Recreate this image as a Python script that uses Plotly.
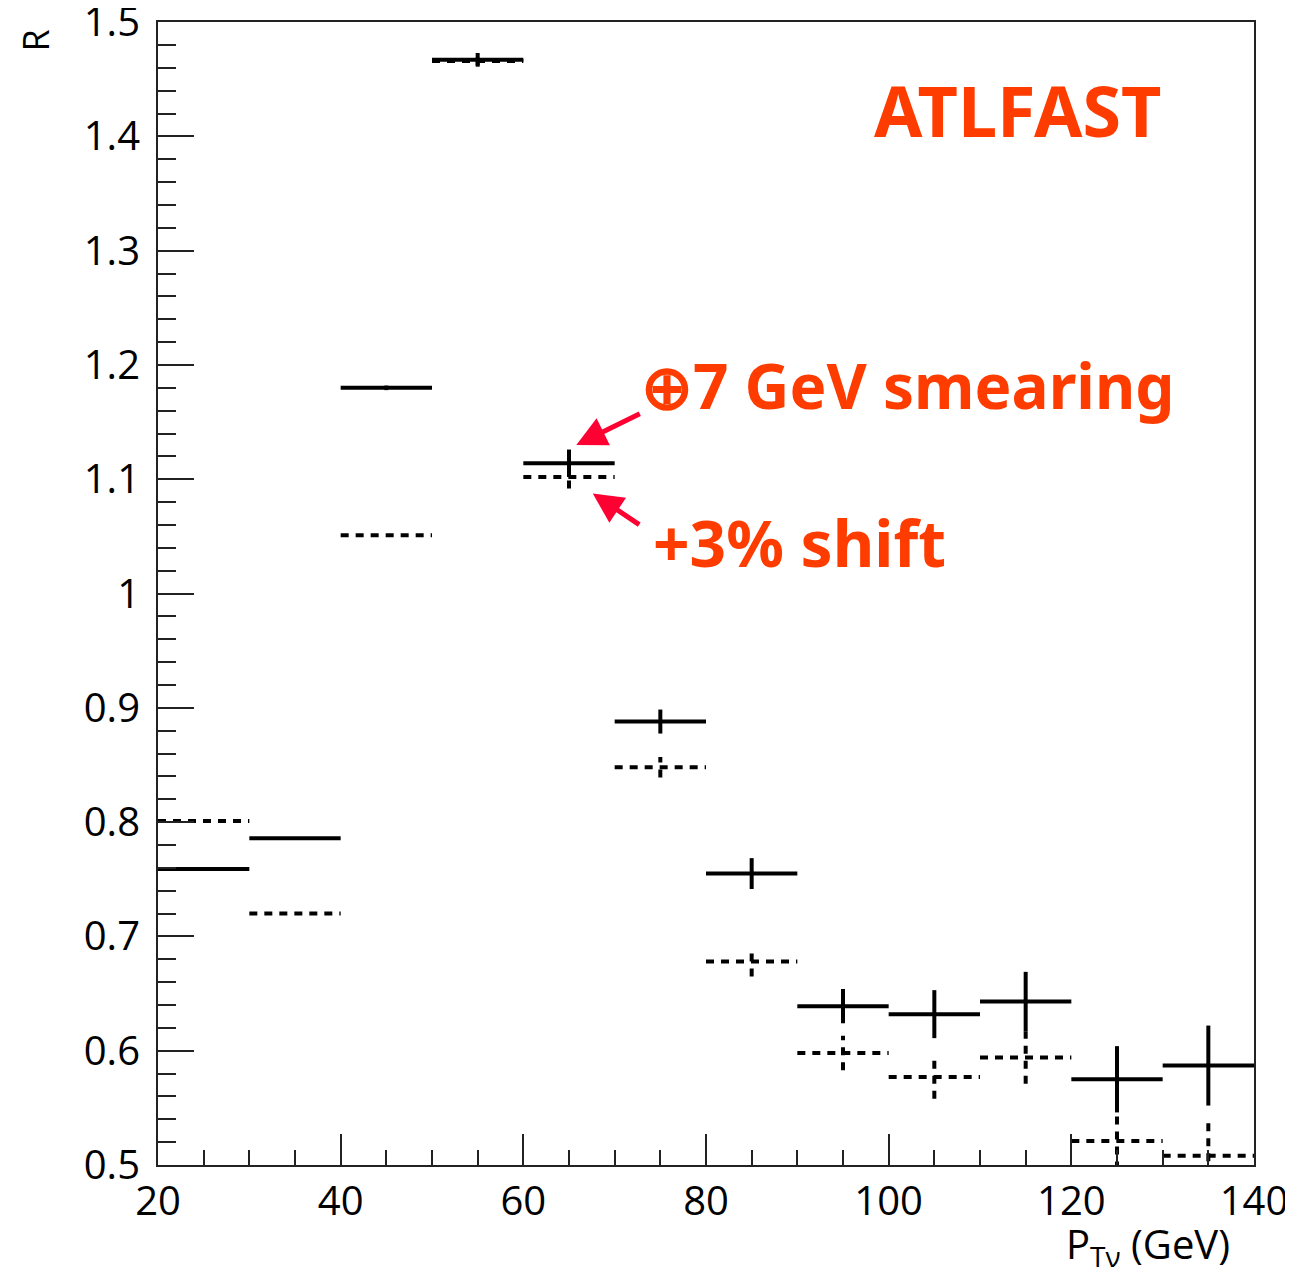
import plotly.graph_objects as go

# Bin edges (GeV)
bin_lo = [20, 30, 40, 50, 60, 70, 80, 90, 100, 110, 120, 130]
bin_hi = [30, 40, 50, 60, 70, 80, 90, 100, 110, 120, 130, 140]

# Solid series: +7 GeV smearing
smear_val = [0.759, 0.786, 1.180, 1.467, 1.114, 0.888, 0.755, 0.639, 0.632, 0.643, 0.575, 0.587]
smear_err = [0.0, 0.0, 0.002, 0.006, 0.012, 0.0105, 0.0135, 0.015, 0.021, 0.026, 0.029, 0.035]

# Dashed series: +3% shift
shift_val = [0.801, 0.720, 1.051, 1.466, 1.102, 0.848, 0.678, 0.598, 0.577, 0.594, 0.521, 0.508]
shift_err = [0.0, 0.0, 0.0, 0.004, 0.010, 0.009, 0.013, 0.015, 0.019, 0.023, 0.025, 0.031]

y_tickvals = [0.5, 0.6, 0.7, 0.8, 0.9, 1.0, 1.1, 1.2, 1.3, 1.4, 1.5]
y_ticktext = ["0.5", "0.6", "0.7", "0.8", "0.9", "1", "1.1", "1.2", "1.3", "1.4", "1.5"]
x_tickvals = [20, 40, 60, 80, 100, 120, 140]
x_ticktext = ["20", "40", "60", "80", "100", "120", "140"]


def hsegs(lo, hi, vals):
    xs, ys = [], []
    for a, b, v in zip(lo, hi, vals):
        xs += [a, b, None]
        ys += [v, v, None]
    return xs, ys


def vsegs(lo, hi, vals, errs):
    xs, ys = [], []
    for a, b, v, e in zip(lo, hi, vals, errs):
        if e <= 0:
            continue
        c = (a + b) / 2
        xs += [c, c, None]
        ys += [v - e, v + e, None]
    return xs, ys


fig = go.Figure()

dash_style = "8px,7px"

hx, hy = hsegs(bin_lo, bin_hi, shift_val)
fig.add_trace(go.Scatter(x=hx, y=hy, mode="lines",
                         line=dict(color="black", width=4, dash=dash_style),
                         showlegend=False, hoverinfo="skip"))
vx, vy = vsegs(bin_lo, bin_hi, shift_val, shift_err)
fig.add_trace(go.Scatter(x=vx, y=vy, mode="lines",
                         line=dict(color="black", width=4, dash=dash_style),
                         showlegend=False, hoverinfo="skip"))

hx, hy = hsegs(bin_lo, bin_hi, smear_val)
fig.add_trace(go.Scatter(x=hx, y=hy, mode="lines",
                         line=dict(color="black", width=4),
                         showlegend=False, hoverinfo="skip"))
vx, vy = vsegs(bin_lo, bin_hi, smear_val, smear_err)
fig.add_trace(go.Scatter(x=vx, y=vy, mode="lines",
                         line=dict(color="black", width=4),
                         showlegend=False, hoverinfo="skip"))

tick_font = dict(family="Open Sans", size=40, color="black")

fig.update_xaxes(range=[20, 140.0001], tickvals=x_tickvals, ticktext=x_ticktext,
                 ticks="inside", ticklen=31, tickwidth=2, tickcolor="#222",
                 minor=dict(dtick=5, tick0=20, ticks="inside", ticklen=15,
                            tickwidth=2, tickcolor="#222"),
                 showline=True, linecolor="#222", linewidth=2, mirror=True,
                 showgrid=False, zeroline=False, tickfont=tick_font,
                 ticklabelstandoff=0, automargin=False, ticklabeloverflow="allow")
fig.update_yaxes(range=[0.5, 1.5001], tickvals=y_tickvals, ticktext=y_ticktext,
                 ticks="inside", ticklen=36, tickwidth=2, tickcolor="#222",
                 minor=dict(dtick=0.02, tick0=0.5, ticks="inside", ticklen=18,
                            tickwidth=2, tickcolor="#222"),
                 showline=True, linecolor="#222", linewidth=2, mirror=True,
                 showgrid=False, zeroline=False, tickfont=tick_font,
                 ticklabelstandoff=8, automargin=False, ticklabeloverflow="allow")

text_col = "#FF3C00"
arrow_col = "#FF0033"

annotations = [
    dict(text="<b>ATLFAST</b>", x=0.785, y=0.923, xref="paper", yref="paper",
         showarrow=False, font=dict(family="Noto Sans", size=70, color=text_col),
         xanchor="center", yanchor="middle"),
    dict(text="<b>⊕7 GeV smearing</b>", x=0.684, y=0.682, xref="paper", yref="paper",
         showarrow=False, font=dict(family="Noto Sans", size=62, color=text_col),
         xanchor="center", yanchor="middle"),
    dict(text="<b>+3% shift</b>", x=0.585, y=0.545, xref="paper", yref="paper",
         showarrow=False, font=dict(family="Noto Sans", size=64, color=text_col),
         xanchor="center", yanchor="middle"),
    dict(text="", x=65.8, y=1.130, xref="x", yref="y", ax=65, ay=-32,
         showarrow=True, arrowhead=2, arrowsize=1.2, arrowwidth=5, arrowcolor=arrow_col,
         standoff=0),
    dict(text="", x=67.6, y=1.0875, xref="x", yref="y", ax=48, ay=32,
         showarrow=True, arrowhead=2, arrowsize=1.2, arrowwidth=5, arrowcolor=arrow_col,
         standoff=0),
    dict(text="P<sub>Tν</sub> (GeV)", x=0.980, y=-0.070, xref="paper", yref="paper",
         showarrow=False, font=dict(family="Open Sans", size=40, color="black"),
         xanchor="right", yanchor="middle"),
    dict(text="R", x=-0.112, y=0.984, xref="paper", yref="paper", textangle=-90,
         showarrow=False, font=dict(family="Open Sans", size=36, color="black"),
         xanchor="center", yanchor="middle"),
]

fig.update_layout(width=1277, height=1261,
                  margin=dict(l=150, r=31, t=14, b=104),
                  plot_bgcolor="white", paper_bgcolor="white",
                  annotations=annotations, showlegend=False)

fig.write_html("out.html")
